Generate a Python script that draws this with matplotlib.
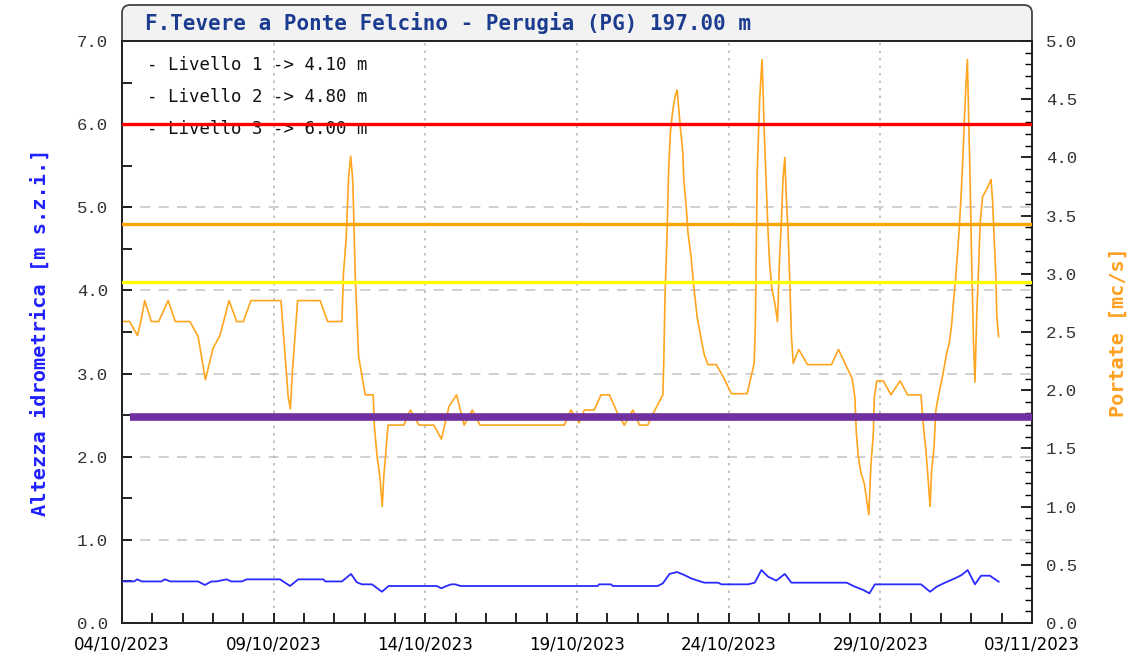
import numpy as np
import pandas as pd
import matplotlib
matplotlib.use("Agg")
import matplotlib.pyplot as plt
import matplotlib.dates as mdates
from matplotlib.patches import FancyBboxPatch
from matplotlib.ticker import MultipleLocator, FormatStrFormatter

# Dati (giorni dal 04/10/2023 00:00)
inizio = pd.Timestamp("2023-10-04")
fine = pd.Timestamp("2023-11-03")

giorni_portata = [0.00, 0.25, 0.51, 0.62, 0.75, 0.97, 1.21, 1.52, 1.76, 2.24, 2.51, 2.75,
                  3.00, 3.23, 3.53, 3.78, 4.00, 4.25, 5.24, 5.37, 5.48, 5.55, 5.62, 5.79,
                  6.53, 6.78, 7.25, 7.30, 7.39, 7.47, 7.54, 7.61, 7.69, 7.80, 8.02, 8.28,
                  8.32, 8.41, 8.50, 8.58, 8.63, 8.69, 8.77, 9.29, 9.51, 9.79, 10.28, 10.53,
                  10.78, 11.03, 11.28, 11.55, 11.80, 14.58, 14.80, 15.07, 15.24, 15.57, 15.79,
                  16.07, 16.34, 16.56, 16.84, 17.06, 17.33, 17.55, 17.83, 17.86, 17.90, 17.97,
                  18.02, 18.08, 18.16, 18.23, 18.30, 18.34, 18.41, 18.49, 18.52, 18.60, 18.66,
                  18.76, 18.85, 18.96, 19.10, 19.20, 19.32, 19.59, 19.81, 20.09, 20.61, 20.75,
                  20.84, 20.88, 20.91, 20.94, 21.02, 21.10, 21.13, 21.17, 21.24, 21.30, 21.35,
                  21.43, 21.52, 21.61, 21.68, 21.74, 21.79, 21.85, 21.90, 21.96, 22.02, 22.07,
                  22.13, 22.31, 22.60, 23.39, 23.62, 23.89, 24.07, 24.16, 24.21, 24.27, 24.36,
                  24.47, 24.55, 24.62, 24.69, 24.77, 24.80, 24.88, 25.10, 25.35, 25.65, 25.90,
                  26.34, 26.42, 26.50, 26.56, 26.64, 26.69, 26.77, 26.83, 26.91, 27.05, 27.19,
                  27.27, 27.35, 27.41, 27.48, 27.55, 27.60, 27.66, 27.72, 27.77, 27.83, 27.87,
                  27.90, 27.96, 28.01, 28.07, 28.12, 28.18, 28.24, 28.29, 28.37, 28.51, 28.65,
                  28.70, 28.75, 28.81, 28.84, 28.90]
portata = [2.59, 2.59, 2.47, 2.59, 2.77, 2.59, 2.59, 2.77, 2.59, 2.59, 2.46, 2.09,
           2.36, 2.47, 2.77, 2.59, 2.59, 2.77, 2.77, 2.32, 1.94, 1.84, 2.17, 2.77,
           2.77, 2.59, 2.59, 3.00, 3.30, 3.83, 4.01, 3.79, 2.98, 2.29, 1.96, 1.96,
           1.69, 1.43, 1.26, 1.00, 1.26, 1.44, 1.70, 1.70, 1.83, 1.70, 1.70, 1.58,
           1.86, 1.96, 1.70, 1.83, 1.70, 1.70, 1.83, 1.72, 1.83, 1.83, 1.96,
           1.96, 1.80, 1.70, 1.83, 1.70, 1.70, 1.82, 1.96, 2.23, 2.79, 3.35,
           3.89, 4.22, 4.41, 4.52, 4.58, 4.46, 4.25, 4.04, 3.81, 3.58, 3.35,
           3.15, 2.89, 2.63, 2.43, 2.30, 2.22, 2.22, 2.12, 1.97, 1.97, 2.13,
           2.23, 2.55, 3.19, 3.85, 4.49, 4.84, 4.61, 4.24, 3.76, 3.35, 3.09,
           2.86, 2.75, 2.59, 3.15, 3.46, 3.81, 4.00, 3.66, 3.35, 2.89, 2.46,
           2.23, 2.35, 2.22, 2.22, 2.35, 2.20, 2.10, 1.94, 1.63, 1.44, 1.29,
           1.20, 1.06, 0.93, 1.36, 1.63, 1.93, 2.08, 2.08, 1.96, 2.08, 1.96,
           1.96, 1.69, 1.49, 1.29, 1.00, 1.31, 1.51, 1.83, 1.94, 2.12, 2.32,
           2.40, 2.56, 2.76, 2.95, 3.20, 3.38, 3.66, 3.99, 4.32, 4.66, 4.84,
           4.49, 3.79, 3.12, 2.43, 2.07, 2.66, 3.06, 3.43, 3.66, 3.73, 3.81,
           3.63, 3.32, 2.98, 2.63, 2.46]

giorni_livello = [0.00, 0.40, 0.50, 0.65, 1.30, 1.41, 1.60, 2.51, 2.73, 2.95, 3.12, 3.45,
                  3.60, 3.95, 4.11, 5.21, 5.54, 5.81, 6.64, 6.70, 7.25, 7.55, 7.74, 7.91,
                  8.24, 8.57, 8.79, 10.38, 10.53, 10.70, 10.85, 10.99, 11.16, 15.68, 15.73,
                  16.12, 16.18, 17.66, 17.83, 18.05, 18.30, 18.54, 18.76, 18.98, 19.20, 19.65,
                  19.76, 20.64, 20.86, 21.08, 21.30, 21.57, 21.85, 22.07, 23.89, 24.16, 24.44,
                  24.64, 24.82, 26.34, 26.64, 26.86, 27.13, 27.46, 27.68, 27.88, 28.12, 28.32,
                  28.61, 28.90]
livello = [0.50, 0.50, 0.525, 0.50, 0.50, 0.525, 0.50, 0.50, 0.457, 0.50, 0.50, 0.525,
           0.50, 0.50, 0.525, 0.525, 0.445, 0.525, 0.525, 0.50, 0.50, 0.59, 0.49, 0.465,
           0.465, 0.376, 0.445, 0.445, 0.417, 0.445, 0.465, 0.465, 0.445, 0.445, 0.465,
           0.465, 0.445, 0.445, 0.477, 0.59, 0.613, 0.577, 0.537, 0.51, 0.485, 0.485,
           0.465, 0.465, 0.485, 0.637, 0.557, 0.51, 0.59, 0.485, 0.485, 0.437, 0.397,
           0.357, 0.465, 0.465, 0.376, 0.437, 0.485, 0.537, 0.577, 0.637, 0.465, 0.569,
           0.569, 0.497]

soglie = [4.10, 4.80, 6.00]
colori_soglie = ["#ffff00", "#ffa500", "#ff0000"]
livello_viola = 2.48
inizio_viola = 0.25
titolo = "F.Tevere a Ponte Felcino - Perugia (PG) 197.00 m"

t_portata = inizio + pd.to_timedelta(giorni_portata, unit="D")
t_livello = inizio + pd.to_timedelta(giorni_livello, unit="D")

mono = "DejaVu Sans Mono"
W, H = 1134, 662
fig = plt.figure(figsize=(W / 100, H / 100), dpi=100)
x0, x1, ytop, ybot = 122, 1032, 41, 623
ax = fig.add_axes([x0 / W, 1 - ybot / H, (x1 - x0) / W, (ybot - ytop) / H])

# riquadro del titolo
box = FancyBboxPatch((x0 / 100, (H - 60) / 100), (x1 - x0) / 100, 0.55,
                     boxstyle="round,pad=0,rounding_size=0.08",
                     transform=fig.dpi_scale_trans, facecolor="#f2f2f2",
                     edgecolor="#444444", linewidth=1.3, zorder=-1)
fig.patches.append(box)
fig.text(145 / W, 1 - 23 / H, titolo, family=mono, weight="bold", fontsize=15,
         color="#1c3d8f", va="center", ha="left")

ax.set_xlim(inizio, fine)
ax.set_ylim(0, 7)
ax2 = ax.twinx()
ax2.set_ylim(0, 5)
ax3 = ax.twinx()
ax3.set_ylim(0, 7)
ax3.axis("off")

# griglia
for y in range(1, 7):
    ax.axhline(y, color="#c8c8c8", lw=1.2, ls=(0, (6, 5)), zorder=0)
for d in pd.date_range(inizio, fine, freq="5D")[1:-1]:
    ax.axvline(d, color="#b8b8b8", lw=1.2, ls=(0, (1.5, 3)), zorder=0)

ax2.plot(t_portata, portata, color="#ffa51f", lw=1.2)

for s, c in zip(soglie, colori_soglie):
    ax3.axhline(s, color=c, lw=2.4, zorder=3)
ax3.hlines(livello_viola, inizio + pd.Timedelta(days=inizio_viola), fine,
           color="#7030a0", lw=5.5, zorder=3)
ax3.plot(t_livello, livello, color="#2a2aff", lw=1.3, zorder=4)

for i, s in enumerate(soglie):
    ax3.text(25 / (x1 - x0), 1 - (24 + 32 * i) / (ybot - ytop),
             "- Livello %d -> %.2f m" % (i + 1, s), transform=ax3.transAxes,
             family=mono, fontsize=12.5, color="#111111", va="center", zorder=1)

# assi
ax.set_xticks(pd.date_range(inizio, fine, freq="5D"))
ax.xaxis.set_minor_locator(mdates.DayLocator())
ax.xaxis.set_major_formatter(mdates.DateFormatter("%d/%m/%Y"))
ax.yaxis.set_major_locator(MultipleLocator(1))
ax.yaxis.set_minor_locator(MultipleLocator(0.5))
ax.yaxis.set_major_formatter(FormatStrFormatter("%.1f"))
ax2.yaxis.set_major_locator(MultipleLocator(0.5))
ax2.yaxis.set_minor_locator(MultipleLocator(0.1))
ax2.yaxis.set_major_formatter(FormatStrFormatter("%.1f"))

ax.tick_params(axis="x", which="both", direction="in", length=7, width=1.2, pad=9)
ax.tick_params(axis="y", which="both", direction="in", length=7, width=1.2, pad=10)
ax2.tick_params(axis="y", which="major", direction="in", length=8, width=1.2, pad=10)
ax2.tick_params(axis="y", which="minor", direction="in", length=5, width=1.0)
for lab in ax.get_xticklabels():
    lab.set_family("DejaVu Sans")
    lab.set_fontsize(12)
for lab in ax.get_yticklabels() + ax2.get_yticklabels():
    lab.set_family("Liberation Mono")
    lab.set_fontsize(12.5)
    lab.set_color("#333333")

for a in (ax, ax2):
    for sp in a.spines.values():
        sp.set_linewidth(1.3)
        sp.set_color("#222222")
ax.spines["top"].set_color("#444444")

ax.set_ylabel("Altezza idrometrica [m s.z.i.]", family=mono, weight="bold",
              fontsize=14.6, color="#2020ff")
ax.yaxis.set_label_coords(-0.079, 0.5)
ax2.set_ylabel("Portate [mc/s]", family=mono, weight="bold", fontsize=14.5,
               color="#ffa020", rotation=90)
ax2.yaxis.set_label_coords(1.0846, 0.5)

fig.savefig("out.png", dpi=100)
